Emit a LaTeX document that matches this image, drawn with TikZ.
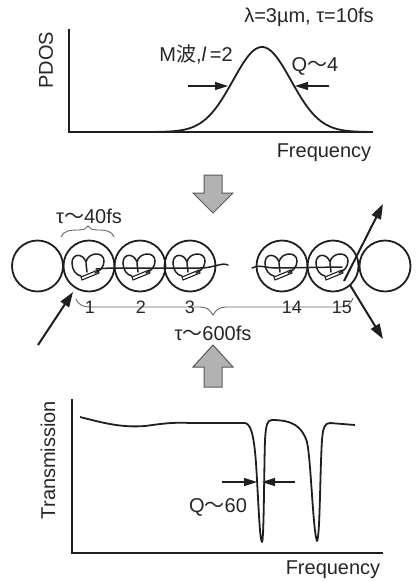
\documentclass[tikz,border=0pt]{standalone}
\usepackage{fontspec}
\setmainfont{Liberation Sans}
\newfontfamily\cjk{Noto Sans CJK JP}
\usetikzlibrary{arrows.meta}
\newcommand\wv{{\cjk 〜}}
\begin{document}
\begin{tikzpicture}[x=1pt,y=-1pt,
  axis/.style={draw=black!88, line width=1.7pt, line cap=rect},
  curve/.style={draw=black!88, line width=1.8pt, line join=round},
  lab/.style={font=\fontsize{20}{24}\selectfont, text=black!85, inner sep=0pt},
  num/.style={font=\fontsize{18}{22}\selectfont, text=black!85, inner sep=0pt},
  ring/.style={circle, draw=black!88, line width=1.8pt, minimum size=51pt, inner sep=0pt},
  motif/.style={draw=black!88, line width=1.5pt, line cap=round},
  thin/.style={draw=black!60, line width=0.9pt},
  bigarrow/.style={fill=black!30, draw=black!65, line width=1pt, line join=miter},
  qarrow/.style={draw=black!88, line width=1.5pt, -{Triangle[length=13pt,width=8pt]}},
  beam/.style={draw=black!88, line width=2pt, -{Triangle[length=15pt,width=10pt]}},
  mode/.pic={
    \draw[motif] (-3,-4) .. controls (-6,-13) and (-17,-13) .. (-17,-3)
                 .. controls (-17,4) and (-13,9) .. (-8,10);
    \draw[motif] (-3,-4) .. controls (-1,-14) and (15,-15) .. (15,-5)
                 .. controls (15,1) and (11,5) .. (6,7);
    \draw[motif] (-3,-3) -- (-2,6);
    \draw[motif, line width=1.1pt] (-7,14) -- (10,7) -- (9,4) -- (-8,11) -- cycle;
  }]
\useasboundingbox (0,0) rectangle (417,582);

% ---------- upper panel: PDOS ----------
\coordinate (o1) at (69,132);
\coordinate (y1) at (69,30);
\coordinate (x1) at (372,132);
\draw[axis] (y1) -- (o1) -- (x1);
\draw[curve] plot[domain=140:366, samples=120]
  (\x, {132 - 85*exp(-((\x-262)^2)/1682)});
\coordinate (qa1) at (188,86);
\coordinate (qb1) at (228,86);
\coordinate (qc1) at (329,86);
\coordinate (qd1) at (295,86);
\draw[qarrow] (qa1) -- (qb1);
\draw[qarrow] (qc1) -- (qd1);
\node[lab] (lam) at (309,17) {λ=3µm, τ=10fs};
\node[lab] (mw) at (196,54) {M{\cjk 波},\textit{l}\,=2};
\node[lab] (q4) at (315,66) {Q\wv4};
\node[lab, rotate=90] (pdos) at (46,60) {PDOS};
\node[lab] (f1) at (324,153) {Frequency};

% ---------- downward block arrow ----------
\draw[bigarrow] (204,175) -- (222,175) -- (222,193) -- (233,193) -- (213,213)
  -- (193,193) -- (204,193) -- cycle;

% ---------- chain of resonators ----------
\node[ring] (c0) at (37.5,266) {};
\node[ring] (c1) at (89,266) {};
\node[ring] (c2) at (140,266) {};
\node[ring] (c3) at (190,266) {};
\node[ring] (c14) at (282,266) {};
\node[ring] (c15) at (333,266) {};
\node[ring] (c16) at (385,266) {};
\foreach \c in {c1,c2,c3,c14,c15} \pic at (\c.center) {mode};

% guided wave through the chain
\draw[motif] (96,269) .. controls (108,268) .. (128,268) -- (200,268)
  .. controls (214,268) and (222,262) .. (228,265);
\draw[motif] (252,268) .. controls (258,264) and (266,268) .. (276,268) -- (342,267);

% coupling in and out
\coordinate (inA) at (38,345);
\coordinate (inB) at (73,292);
\coordinate (upA) at (344,281);
\coordinate (upB) at (383,204);
\coordinate (dnA) at (350,285);
\coordinate (dnB) at (383,339);
\draw[beam] (inA) -- (inB);
\draw[beam] (upA) -- (upB);
\draw[beam] (dnA) -- (dnB);

% single-resonator lifetime
\draw[thin] (61,237) .. controls (63,231) and (70,230) .. (78,230)
  .. controls (84,230) and (86,229) .. (88,226)
  .. controls (90,229) and (92,230) .. (98,230)
  .. controls (106,230) and (112,231) .. (114,237);
\node[lab] (t40) at (89,216) {τ\wv40fs};

% chain lifetime
\draw[thin] (76,299) .. controls (79,306) and (84,307) .. (92,307) -- (200,307)
  .. controls (207,307) and (210,310) .. (213,315)
  .. controls (216,310) and (219,307) .. (226,307) -- (340,307)
  .. controls (347,307) and (351,304) .. (353,298);
\node[num] (n1) at (90,307) {1};
\node[num] (n2) at (141,307) {2};
\node[num] (n3) at (190,307) {3};
\node[num] (n14) at (292,307) {14};
\node[num] (n15) at (342,307) {15};
\node[lab] (t600) at (213,333) {τ\wv600fs};

% ---------- upward block arrow ----------
\draw[bigarrow] (204,387) -- (222,387) -- (222,367) -- (233,367) -- (213,345)
  -- (193,367) -- (204,367) -- cycle;

% ---------- lower panel: transmission ----------
\coordinate (o2) at (72,553);
\coordinate (y2) at (72,400);
\coordinate (x2) at (382,553);
\draw[axis] (y2) -- (o2) -- (x2);
\draw[curve] (80,417) .. controls (100,422) and (120,428) .. (145,426)
  .. controls (160,424) and (172,422) .. (190,423) -- (245,423)
  .. controls (252,424) and (255,440) .. (257,480)
  .. controls (259,515) and (260,540) .. (262,542)
  .. controls (264,540) and (264,470) .. (265,440)
  .. controls (266,425) and (267,420) .. (272,420)
  .. controls (292,420) and (302,426) .. (307,442)
  .. controls (311,460) and (313,532) .. (317,541)
  .. controls (320,538) and (320,470) .. (322,440)
  .. controls (323,427) and (325,423) .. (330,423) -- (355,425);
\coordinate (qa2) at (222,482);
\coordinate (qb2) at (257,482);
\coordinate (qc2) at (295,482);
\coordinate (qd2) at (262,482);
\draw[qarrow] (qa2) -- (qb2);
\draw[qarrow] (qc2) -- (qd2);
\node[lab] (q60) at (218,507) {Q\wv60};
\node[lab, rotate=90] (trans) at (48,460) {Transmission};
\node[lab] (f2) at (333,570) {Frequency};
\end{tikzpicture}
\end{document}
